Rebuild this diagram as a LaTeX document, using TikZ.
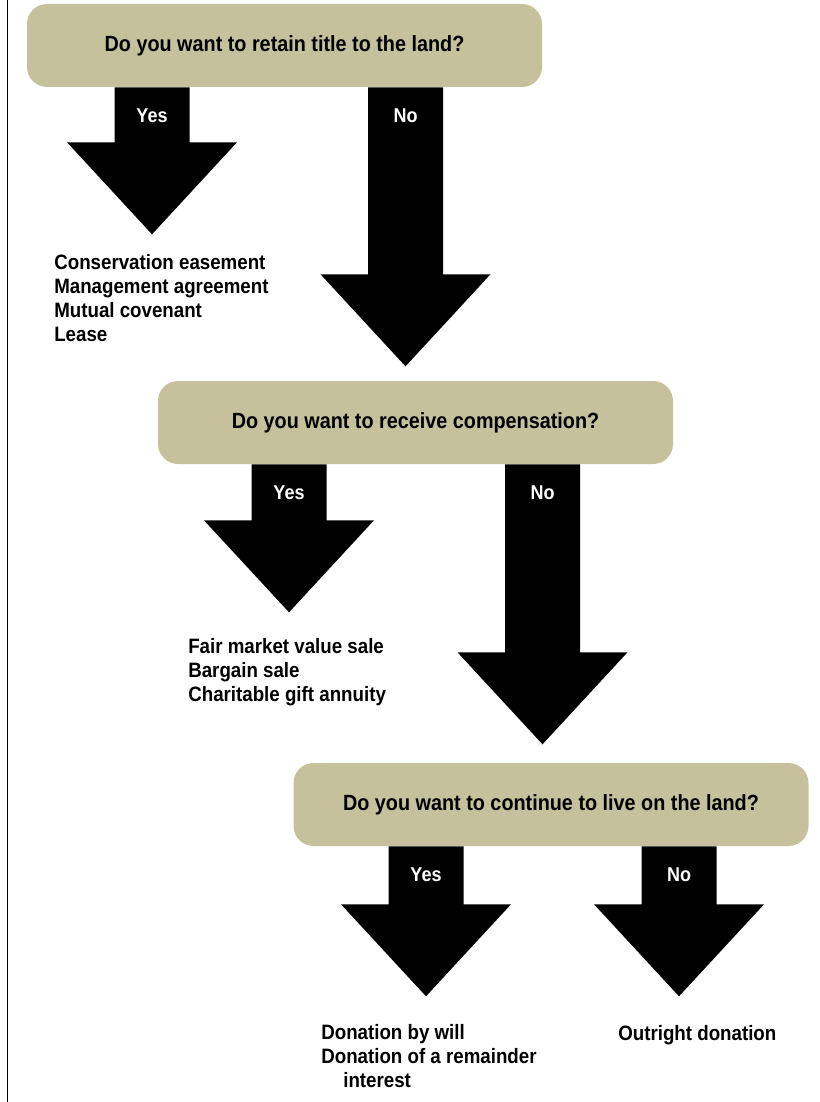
\documentclass[tikz,border=0pt]{standalone}
\usepackage{fontspec}
\setmainfont{Liberation Sans}[FakeStretch=0.9]
\usepackage{tikz}
\usetikzlibrary{calc}
\definecolor{boxtan}{RGB}{197,193,156}

% fat down arrow: top of shaft, shaft length, label name, label
\newcommand{\bigarrow}[4]{%
  \fill ($(#1)+(-37.5,0)$) -- ++(0,#2) -- ++(-47.5,0) -- ++(85,92)
        -- ++(85,-92) -- ++(-47.5,0) -- ++(0,-#2) -- cycle;
  \node[choice] (#3) at ($(#1)+(0,28)$) {#4};
}

\begin{document}
\begin{tikzpicture}[x=1pt,y=-1pt,semithick]
\tikzstyle{question}=[fill=boxtan,rounded corners=20pt,minimum width=515pt,
                      minimum height=83pt,font=\fontsize{22}{26}\selectfont\bfseries]
\tikzstyle{choice}=[text=white,inner sep=0pt,font=\fontsize{20}{24}\selectfont\bfseries]
\tikzstyle{outcome}=[anchor=base west,align=left,inner sep=0pt,
                     font=\fontsize{20.8}{23.8}\selectfont\bfseries]

\useasboundingbox (0,0) rectangle (819,1102);
\draw[line width=1.5pt] (7.5,0) -- (7.5,1102);

\node[question] (0) at (284.5,45.5) {Do you want to retain title to the land?};
\node[question] (1) at (415.5,422.5) {Do you want to receive compensation?};
\node[question] (2) at (551,804.5) {Do you want to continue to live on the land?};

\coordinate (0y) at (152,0 |- 0.south);
\coordinate (0n) at (405.5,0 |- 0.south);
\coordinate (1y) at (289,0 |- 1.south);
\coordinate (1n) at (542.5,0 |- 1.south);
\coordinate (2y) at (426,0 |- 2.south);
\coordinate (2n) at (679,0 |- 2.south);

\bigarrow{0y}{55}{y0}{Yes}
\bigarrow{0n}{187}{n0}{No}
\bigarrow{1y}{56}{y1}{Yes}
\bigarrow{1n}{188}{n1}{No}
\bigarrow{2y}{58}{y2}{Yes}
\bigarrow{2n}{58}{n2}{No}

% base of a several-line node is its last line
\node[outcome] (3) at (54,341) {Conservation easement\\Management agreement\\Mutual covenant\\Lease};
\node[outcome] (4) at (188,701) {Fair market value sale\\Bargain sale\\Charitable gift annuity};
\node[outcome] (5) at (321,1087.5) {Donation by will\\Donation of a remainder\\\hspace*{22pt}interest};
\node[outcome] (6) at (618,1040) {Outright donation};

\end{tikzpicture}
\end{document}
